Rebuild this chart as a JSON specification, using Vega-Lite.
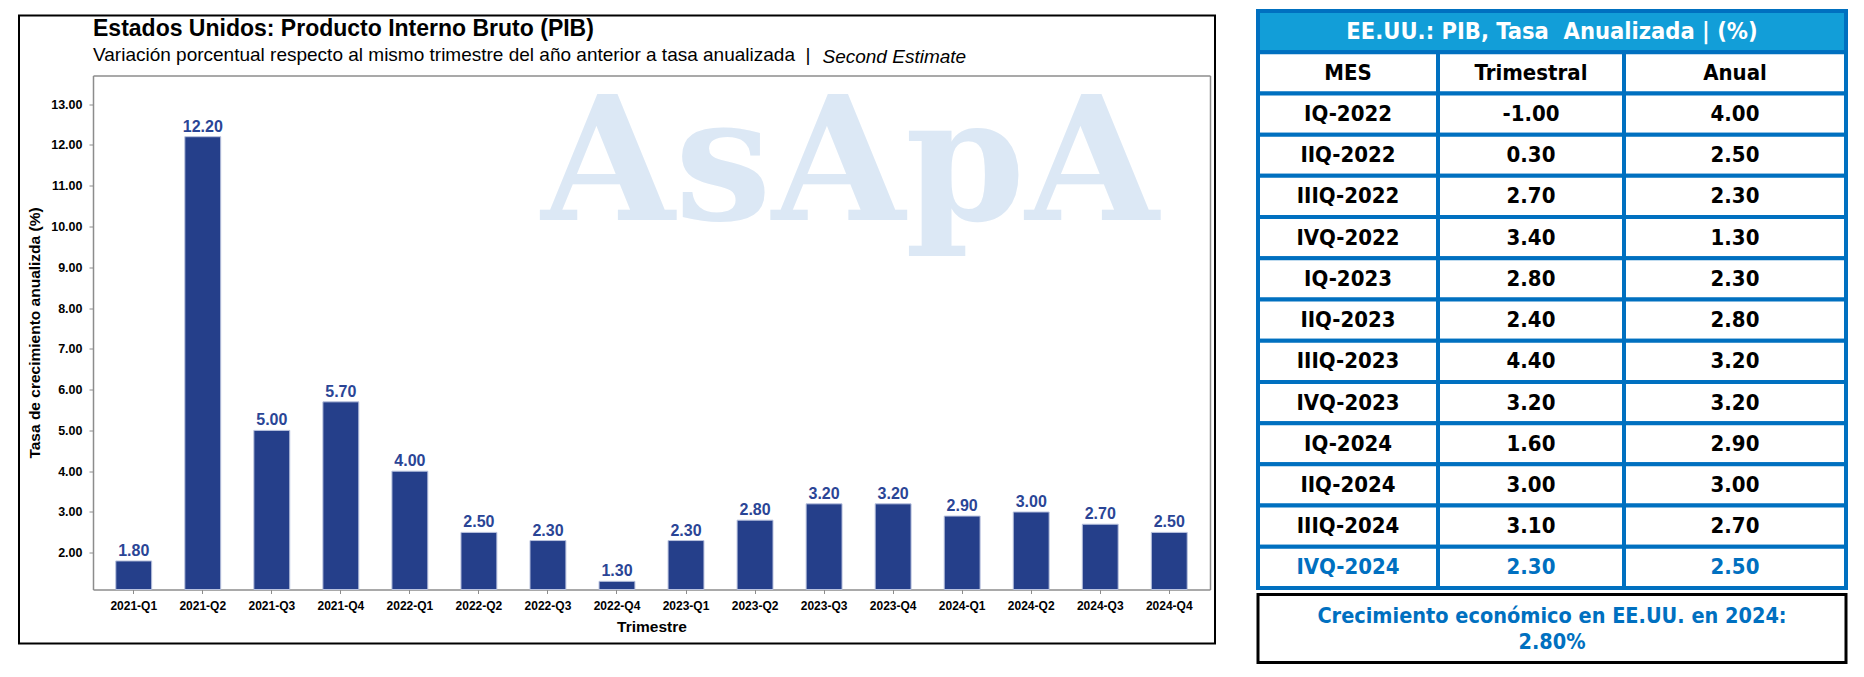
{
  "$schema": "https://vega.github.io/schema/vega-lite/v6.json",
  "background": "white",
  "padding": {"left": 18, "top": 8.5, "right": 5, "bottom": 5},
  "config": {
    "view": {"stroke": null},
    "axis": {"grid": false},
    "locale": {"number": {"decimal": ".", "thousands": ",", "grouping": [3], "currency": ["$", ""], "minus": "-"}}
  },
  "datasets": {
    "pib": [
      {"q": "2021-Q1", "v": 1.8}, {"q": "2021-Q2", "v": 12.2}, {"q": "2021-Q3", "v": 5.0}, {"q": "2021-Q4", "v": 5.7},
      {"q": "2022-Q1", "v": 4.0}, {"q": "2022-Q2", "v": 2.5}, {"q": "2022-Q3", "v": 2.3}, {"q": "2022-Q4", "v": 1.3},
      {"q": "2023-Q1", "v": 2.3}, {"q": "2023-Q2", "v": 2.8}, {"q": "2023-Q3", "v": 3.2}, {"q": "2023-Q4", "v": 3.2},
      {"q": "2024-Q1", "v": 2.9}, {"q": "2024-Q2", "v": 3.0}, {"q": "2024-Q3", "v": 2.7}, {"q": "2024-Q4", "v": 2.5}
    ],
    "tabla": [
      {"mes": "IQ-2022", "tri": -1.0, "anual": 4.0},
      {"mes": "IIQ-2022", "tri": 0.3, "anual": 2.5},
      {"mes": "IIIQ-2022", "tri": 2.7, "anual": 2.3},
      {"mes": "IVQ-2022", "tri": 3.4, "anual": 1.3},
      {"mes": "IQ-2023", "tri": 2.8, "anual": 2.3},
      {"mes": "IIQ-2023", "tri": 2.4, "anual": 2.8},
      {"mes": "IIIQ-2023", "tri": 4.4, "anual": 3.2},
      {"mes": "IVQ-2023", "tri": 3.2, "anual": 3.2},
      {"mes": "IQ-2024", "tri": 1.6, "anual": 2.9},
      {"mes": "IIQ-2024", "tri": 3.0, "anual": 3.0},
      {"mes": "IIIQ-2024", "tri": 3.1, "anual": 2.7},
      {"mes": "IVQ-2024", "tri": 2.3, "anual": 2.5}
    ]
  },
  "bounds": "flush",
  "spacing": 43,
  "hconcat": [
    {
      "width": 1196,
      "height": 628,
      "view": {"stroke": "black", "strokeWidth": 2},
      "title": {
        "text": "Estados Unidos: Producto Interno Bruto (PIB)",
        "subtitle": "Variación porcentual respecto al mismo trimestre del año anterior a tasa anualizada \u00a0|",
        "anchor": "start", "frame": "group", "orient": "top", "dx": 74, "offset": -49.5,
        "font": "Liberation Sans", "fontSize": 23, "fontWeight": "bold", "color": "black",
        "subtitleFont": "Liberation Sans", "subtitleFontSize": 19, "subtitleColor": "black", "subtitlePadding": 5
      },
      "data": {"name": "pib"},
      "layer": [
        {
          "data": {"values": [{}]},
          "mark": {"type": "text", "text": "AsApA", "font": "DejaVu Serif", "fontWeight": "bold", "fontSize": 172, "color": "#DCE8F5", "baseline": "alphabetic", "align": "center", "dx": 26},
          "encoding": {
            "x": {"datum": "2023-Q3", "type": "nominal", "axis": null},
            "y": {"datum": 10.15, "type": "quantitative", "axis": null}
          }
        },
        {
          "mark": {"type": "bar", "fill": "#253F8A", "stroke": "#B9C2DE", "strokeWidth": 1},
          "encoding": {
            "x": {
              "field": "q", "type": "nominal", "sort": null,
              "scale": {
                "domain": ["2021-Q1","2021-Q2","2021-Q3","2021-Q4","2022-Q1","2022-Q2","2022-Q3","2022-Q4","2023-Q1","2023-Q2","2023-Q3","2023-Q4","2024-Q1","2024-Q2","2024-Q3","2024-Q4"],
                "range": [74, 1191], "paddingInner": 0.48, "paddingOuter": 0.33
              },
              "axis": {
                "orient": "bottom", "offset": -54, "title": "Trimestre",
                "domainColor": "#8C8C8C", "domainWidth": 1.5, "tickColor": "#8C8C8C", "tickSize": 4,
                "labelFont": "Liberation Sans", "labelFontWeight": "bold", "labelFontSize": 12, "labelColor": "black", "labelPadding": 7, "labelAngle": 0,
                "titleFont": "Liberation Sans", "titleFontWeight": "bold", "titleFontSize": 15.5, "titleColor": "black", "titlePadding": 8
              }
            },
            "y": {
              "field": "v", "type": "quantitative",
              "scale": {"domain": [1.1, 13.7], "range": [574, 60], "nice": false, "zero": false},
              "axis": {
                "orient": "left", "offset": -74, "title": "Tasa de crecimiento anualizda (%)",
                "values": [2,3,4,5,6,7,8,9,10,11,12,13], "format": ".2f",
                "domainColor": "#8C8C8C", "domainWidth": 1.5, "tickColor": "#8C8C8C", "tickSize": 4,
                "labelFont": "Liberation Sans", "labelFontWeight": "bold", "labelFontSize": 12.5, "labelColor": "black", "labelPadding": 7,
                "titleFont": "Liberation Sans", "titleFontWeight": "bold", "titleFontSize": 15.5, "titleColor": "black", "titlePadding": 8
              }
            },
            "y2": {"datum": 1.1}
          }
        },
        {
          "mark": {"type": "text", "font": "Liberation Sans", "fontWeight": "bold", "fontSize": 16, "color": "#2A4596", "baseline": "alphabetic", "dy": -5},
          "encoding": {
            "x": {
              "field": "q", "type": "nominal", "sort": null,
              "axis": {
                "orient": "top", "offset": -60, "labels": false, "ticks": false,
                "domainColor": "#8C8C8C", "domainWidth": 1.5,
                "title": "Second Estimate", "titleX": 803, "titleY": -13, "titleAlign": "left", "titleBaseline": "alphabetic", "titleAngle": 0,
                "titleFont": "Liberation Sans", "titleFontSize": 19, "titleFontStyle": "italic", "titleFontWeight": "normal", "titleColor": "black"
              }
            },
            "y": {
              "field": "v", "type": "quantitative",
              "axis": {"orient": "right", "offset": -5, "labels": false, "ticks": false, "title": null, "domainColor": "#8C8C8C", "domainWidth": 1.5}
            },
            "text": {"field": "v", "type": "quantitative", "format": ".2f"}
          }
        }
      ],
      "resolve": {"axis": {"x": "independent", "y": "independent"}}
    },
    {
      "bounds": "flush",
      "spacing": 2,
      "vconcat": [
        {
          "width": 588,
          "height": 577,
          "view": {"stroke": null},
          "data": {"name": "tabla"},
          "layer": [
            {
              "data": {"values": [{}]},
              "mark": {"type": "rect", "fill": "#129ED8", "stroke": "#0070C0", "strokeWidth": 4},
              "encoding": {
                "x": {"datum": 0, "type": "quantitative", "scale": {"domain": [0, 1, 2, 3], "range": [0, 180, 366, 588], "nice": false, "zero": false}, "axis": null},
                "x2": {"datum": 3},
                "y": {"datum": "cabecera", "type": "nominal",
                  "scale": {"type": "band", "domain": ["cabecera", "MES", "IQ-2022", "IIQ-2022", "IIIQ-2022", "IVQ-2022", "IQ-2023", "IIQ-2023", "IIIQ-2023", "IVQ-2023", "IQ-2024", "IIQ-2024", "IIIQ-2024", "IVQ-2024"], "range": [-4.5, 572.5], "paddingInner": 0, "paddingOuter": 0},
                  "axis": null}
              }
            },
            {
              "data": {"values": [{}]},
              "mark": {"type": "rect", "fill": "white", "stroke": "#0070C0", "strokeWidth": 4},
              "encoding": {"x": {"datum": 0, "type": "quantitative", "axis": null}, "x2": {"datum": 1}, "y": {"datum": "MES", "type": "nominal", "axis": null}}
            },
            {
              "data": {"values": [{}]},
              "mark": {"type": "rect", "fill": "white", "stroke": "#0070C0", "strokeWidth": 4},
              "encoding": {"x": {"datum": 1, "type": "quantitative", "axis": null}, "x2": {"datum": 2}, "y": {"datum": "MES", "type": "nominal", "axis": null}}
            },
            {
              "data": {"values": [{}]},
              "mark": {"type": "rect", "fill": "white", "stroke": "#0070C0", "strokeWidth": 4},
              "encoding": {"x": {"datum": 2, "type": "quantitative", "axis": null}, "x2": {"datum": 3}, "y": {"datum": "MES", "type": "nominal", "axis": null}}
            },
            {
              "mark": {"type": "rect", "fill": "white", "stroke": "#0070C0", "strokeWidth": 4},
              "encoding": {"x": {"datum": 0, "type": "quantitative", "axis": null}, "x2": {"datum": 1}, "y": {"field": "mes", "type": "nominal", "axis": null}}
            },
            {
              "mark": {"type": "rect", "fill": "white", "stroke": "#0070C0", "strokeWidth": 4},
              "encoding": {"x": {"datum": 1, "type": "quantitative", "axis": null}, "x2": {"datum": 2}, "y": {"field": "mes", "type": "nominal", "axis": null}}
            },
            {
              "mark": {"type": "rect", "fill": "white", "stroke": "#0070C0", "strokeWidth": 4},
              "encoding": {"x": {"datum": 2, "type": "quantitative", "axis": null}, "x2": {"datum": 3}, "y": {"field": "mes", "type": "nominal", "axis": null}}
            },
            {
              "data": {"values": [{}]},
              "mark": {"type": "text", "text": "EE.UU.: PIB, Tasa \u00a0Anualizada | (%)", "color": "white", "font": "DejaVu Sans Condensed, DejaVu Sans", "fontWeight": "bold", "fontSize": 23.5, "dx": 21, "baseline": "middle"},
              "encoding": {"x": {"datum": 1.5, "type": "quantitative", "axis": null}, "y": {"datum": "cabecera", "type": "nominal", "axis": null}}
            },
            {
              "data": {"values": [{}]},
              "mark": {"type": "text", "text": "MES", "color": "black", "font": "DejaVu Sans Condensed, DejaVu Sans", "fontWeight": "bold", "fontSize": 22, "baseline": "middle"},
              "encoding": {"x": {"datum": 0.5, "type": "quantitative", "axis": null}, "y": {"datum": "MES", "type": "nominal", "axis": null}}
            },
            {
              "data": {"values": [{}]},
              "mark": {"type": "text", "text": "Trimestral", "color": "black", "font": "DejaVu Sans Condensed, DejaVu Sans", "fontWeight": "bold", "fontSize": 22, "baseline": "middle"},
              "encoding": {"x": {"datum": 1.5, "type": "quantitative", "axis": null}, "y": {"datum": "MES", "type": "nominal", "axis": null}}
            },
            {
              "data": {"values": [{}]},
              "mark": {"type": "text", "text": "Anual", "color": "black", "font": "DejaVu Sans Condensed, DejaVu Sans", "fontWeight": "bold", "fontSize": 22, "baseline": "middle"},
              "encoding": {"x": {"datum": 2.5, "type": "quantitative", "axis": null}, "y": {"datum": "MES", "type": "nominal", "axis": null}}
            },
            {
              "mark": {"type": "text", "font": "DejaVu Sans Condensed, DejaVu Sans", "fontWeight": "bold", "fontSize": 22, "baseline": "middle"},
              "encoding": {
                "x": {"datum": 0.5, "type": "quantitative", "axis": null},
                "y": {"field": "mes", "type": "nominal", "axis": null},
                "text": {"field": "mes", "type": "nominal"},
                "color": {"condition": {"test": "datum.mes === 'IVQ-2024'", "value": "#0070C0"}, "value": "black"}
              }
            },
            {
              "mark": {"type": "text", "font": "DejaVu Sans Condensed, DejaVu Sans", "fontWeight": "bold", "fontSize": 22, "baseline": "middle"},
              "encoding": {
                "x": {"datum": 1.5, "type": "quantitative", "axis": null},
                "y": {"field": "mes", "type": "nominal", "axis": null},
                "text": {"field": "tri", "type": "quantitative", "format": ".2f"},
                "color": {"condition": {"test": "datum.mes === 'IVQ-2024'", "value": "#0070C0"}, "value": "black"}
              }
            },
            {
              "mark": {"type": "text", "font": "DejaVu Sans Condensed, DejaVu Sans", "fontWeight": "bold", "fontSize": 22, "baseline": "middle"},
              "encoding": {
                "x": {"datum": 2.5, "type": "quantitative", "axis": null},
                "y": {"field": "mes", "type": "nominal", "axis": null},
                "text": {"field": "anual", "type": "quantitative", "format": ".2f"},
                "color": {"condition": {"test": "datum.mes === 'IVQ-2024'", "value": "#0070C0"}, "value": "black"}
              }
            }
          ]
        },
        {
          "width": 588,
          "height": 68,
          "view": {"stroke": "black", "strokeWidth": 3},
          "data": {"values": [{}]},
          "mark": {"type": "text", "text": "Crecimiento económico en EE.UU. en 2024:\n2.80%", "lineBreak": "\n", "lineHeight": 26, "align": "center", "baseline": "middle", "font": "DejaVu Sans Condensed, DejaVu Sans", "fontWeight": "bold", "fontSize": 21.5, "color": "#0070C0", "dy": -11.5},
          "encoding": {
            "x": {"datum": 0.5, "type": "quantitative", "scale": {"domain": [0, 1]}, "axis": null},
            "y": {"datum": 0.5, "type": "quantitative", "scale": {"domain": [0, 1]}, "axis": null}
          }
        }
      ]
    }
  ]
}
